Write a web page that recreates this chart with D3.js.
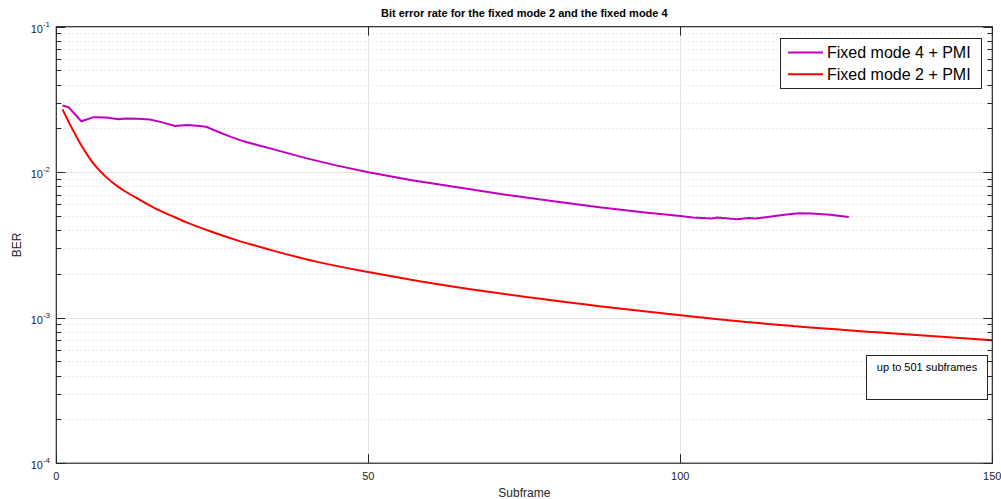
<!DOCTYPE html>
<html>
<head>
<meta charset="utf-8">
<script src="https://cdn.jsdelivr.net/npm/d3@7"></script>
<style>
  body { margin: 0; background: #fff; }
  text { font-family: "Liberation Sans", Arial, sans-serif; }
</style>
</head>
<body>
<div id="chart"></div>
<script>
// values
const mode4Subframe = [1, 2, 4, 6, 8, 10, 11, 13, 15, 17, 19, 21, 23, 24, 26, 28, 30, 35, 40, 45, 50, 57, 64, 72, 80, 87, 94, 100, 102, 105, 106, 109, 111, 112, 114, 117, 119, 121, 124, 127];
const mode4Ber = [0.0287, 0.0279, 0.0224, 0.0239, 0.0238, 0.0231, 0.0234, 0.0233, 0.0230, 0.0220, 0.0208, 0.0211, 0.0208, 0.0205, 0.0189, 0.0175, 0.0163, 0.0143, 0.0125, 0.0111, 0.0100, 0.0088, 0.0079, 0.0070, 0.0063, 0.00575, 0.0053, 0.0050, 0.00488, 0.00481, 0.00488, 0.00475, 0.00485, 0.00480, 0.00493, 0.00512, 0.00522, 0.00520, 0.00510, 0.00493];

const mode2Subframe = [1, 2, 3, 4, 5, 6, 7, 8, 9, 10, 11, 13, 16, 19, 21, 25, 29, 34, 42, 50, 58, 71, 87, 100, 116, 132, 150];
const mode2Ber = [0.0270, 0.0221, 0.0183, 0.0153, 0.0131, 0.0114, 0.0102, 0.00925, 0.0085, 0.0079, 0.0074, 0.0066, 0.0056, 0.0049, 0.0045, 0.00388, 0.0034, 0.00295, 0.00241, 0.00206, 0.00179, 0.00147, 0.00120, 0.00104, 0.00089, 0.00079, 0.00070];

const xTicks = [0, 50, 100, 150];
const yDecades = [-4, -3, -2, -1];
const seriesNames = ["Fixed mode 4 + PMI", "Fixed mode 2 + PMI"];
const seriesColors = ["#bf00bf", "#ff0000"];
const chartTitle = "Bit error rate for the fixed mode 2 and the fixed mode 4";
const noteText = "up to 501 subframes";

const W = 1001, H = 499;
const pL = 56.3, pR = 992.3, pT = 26.7, pB = 463.2;
const axisColor = "#262626";

const svg = d3.select("#chart").append("svg").attr("width", W).attr("height", H);

const x = d3.scaleLinear().domain([0, 150]).range([pL, pR]);
const y = d3.scaleLog().domain([1e-4, 1e-1]).range([pB, pT]);

// minor values on the log axis
let minorVals = [];
yDecades.slice(0, 3).forEach(e => {
    for (let k = 2; k <= 9; k++) minorVals.push(k * Math.pow(10, e));
});

// minor grid (dotted)
svg.append("g").selectAll("line").data(minorVals).enter().append("line")
    .attr("x1", pL).attr("x2", pR)
    .attr("y1", d => Math.round(y(d)) + 0.5).attr("y2", d => Math.round(y(d)) + 0.5)
    .attr("stroke", "#d4d4d4").attr("stroke-width", 1).attr("stroke-dasharray", "1,3");

// major grid
svg.append("g").selectAll("line").data(yDecades.slice(1, 3)).enter().append("line")
    .attr("x1", pL).attr("x2", pR)
    .attr("y1", d => Math.round(y(Math.pow(10, d))) + 0.5).attr("y2", d => Math.round(y(Math.pow(10, d))) + 0.5)
    .attr("stroke", "#e3e3e3").attr("stroke-width", 1);
svg.append("g").selectAll("line").data(xTicks.slice(1, 3)).enter().append("line")
    .attr("x1", d => Math.round(x(d)) + 0.5).attr("x2", d => Math.round(x(d)) + 0.5)
    .attr("y1", pT).attr("y2", pB)
    .attr("stroke", "#e3e3e3").attr("stroke-width", 1);

// clip for the lines
svg.append("clipPath").attr("id", "plotClip").append("rect")
    .attr("x", pL).attr("y", pT).attr("width", pR - pL).attr("height", pB - pT);

const lineGen = d3.line().x(d => x(d[0])).y(d => y(d[1]));
const mode4 = mode4Subframe.map((s, i) => [s, mode4Ber[i]]);
const mode2 = mode2Subframe.map((s, i) => [s, mode2Ber[i]]);

svg.append("path").datum(mode2)
    .attr("clip-path", "url(#plotClip)")
    .attr("d", lineGen.curve(d3.curveMonotoneX))
    .attr("fill", "none").attr("stroke", seriesColors[1]).attr("stroke-width", 2);
svg.append("path").datum(mode4)
    .attr("clip-path", "url(#plotClip)")
    .attr("d", lineGen.curve(d3.curveLinear))
    .attr("fill", "none").attr("stroke", seriesColors[0]).attr("stroke-width", 2);

// box
svg.append("rect").attr("x", pL).attr("y", pT).attr("width", pR - pL).attr("height", pB - pT)
    .attr("fill", "none").attr("stroke", axisColor).attr("stroke-width", 1.2);

// ticks on all four sides, pointing in
const ticks = svg.append("g").attr("stroke", axisColor).attr("stroke-width", 1);
xTicks.forEach(t => {
    const px = Math.round(x(t)) + 0.5;
    ticks.append("line").attr("x1", px).attr("x2", px).attr("y1", pB).attr("y2", pB - 9);
    ticks.append("line").attr("x1", px).attr("x2", px).attr("y1", pT).attr("y2", pT + 9);
});
yDecades.forEach(e => {
    const py = Math.round(y(Math.pow(10, e))) + 0.5;
    ticks.append("line").attr("x1", pL).attr("x2", pL + 9).attr("y1", py).attr("y2", py);
    ticks.append("line").attr("x1", pR).attr("x2", pR - 9).attr("y1", py).attr("y2", py);
});
minorVals.forEach(v => {
    const py = Math.round(y(v)) + 0.5;
    ticks.append("line").attr("x1", pL).attr("x2", pL + 5).attr("y1", py).attr("y2", py);
    ticks.append("line").attr("x1", pR).attr("x2", pR - 5).attr("y1", py).attr("y2", py);
});

// x tick labels
svg.append("g").selectAll("text").data(xTicks).enter().append("text")
    .attr("x", d => x(d)).attr("y", 480)
    .attr("text-anchor", "middle").attr("font-size", 11).attr("fill", axisColor)
    .text(d => d);

// y tick labels 10^e
const yl = svg.append("g").selectAll("text").data(yDecades).enter().append("text")
    .attr("x", 50).attr("y", d => y(Math.pow(10, d)) + 6)
    .attr("text-anchor", "end").attr("font-size", 11).attr("fill", axisColor);
yl.append("tspan").text("10");
yl.append("tspan").attr("dy", -6).attr("font-size", 8).text(d => d);

// title and axis labels
svg.append("text").attr("x", (pL + pR) / 2).attr("y", 17)
    .attr("text-anchor", "middle").attr("font-size", 11).attr("font-weight", "bold").attr("fill", "#000")
    .text(chartTitle);
svg.append("text").attr("x", (pL + pR) / 2).attr("y", 497)
    .attr("text-anchor", "middle").attr("font-size", 12).attr("fill", axisColor)
    .text("Subframe");
svg.append("text").attr("transform", `translate(21, ${(pT + pB) / 2}) rotate(-90)`)
    .attr("text-anchor", "middle").attr("font-size", 12).attr("fill", axisColor)
    .text("BER");

// legend
const lg = svg.append("g");
lg.append("rect").attr("x", 780.5).attr("y", 38.5).attr("width", 201).attr("height", 50)
    .attr("fill", "#fff").attr("stroke", axisColor).attr("stroke-width", 1);
seriesNames.forEach((name, i) => {
    const ly = 52.5 + i * 21.7;
    lg.append("line").attr("x1", 788).attr("x2", 823).attr("y1", ly).attr("y2", ly)
        .attr("stroke", seriesColors[i]).attr("stroke-width", 2);
    lg.append("text").attr("x", 827).attr("y", ly + 5.5).attr("font-size", 16).attr("fill", "#000")
        .text(name);
});

// annotation
svg.append("rect").attr("x", 866.5).attr("y", 355.5).attr("width", 121).attr("height", 44)
    .attr("fill", "#fff").attr("stroke", axisColor).attr("stroke-width", 1);
svg.append("text").attr("x", 927).attr("y", 371).attr("text-anchor", "middle")
    .attr("font-size", 11).attr("fill", "#000").text(noteText);
</script>
</body>
</html>
